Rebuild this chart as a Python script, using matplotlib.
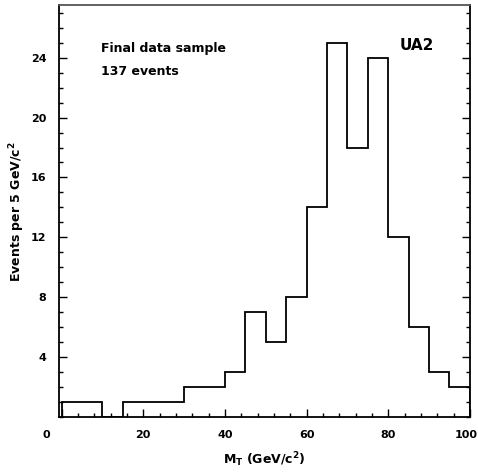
import numpy as np
import matplotlib
matplotlib.use("Agg")
import matplotlib.pyplot as plt
import matplotlib.transforms as mtransforms

# transverse mass histogram, 5 GeV bins from 0 to 100
bin_edges = np.arange(0, 105, 5)
counts = [1, 1, 0, 1, 1, 1, 2, 2, 3, 7, 5, 8, 14, 25, 18, 24, 12, 6, 3, 2]

x_ticks = [0, 20, 40, 60, 80, 100]
x_labels = ['0', '20', '40', '60', '80', '100']
y_ticks = [4, 8, 12, 16, 20, 24]
y_labels = ['4', '8', '12', '16', '20', '24']

plt.rcParams['font.family'] = 'DejaVu Sans'

fig = plt.figure(figsize=(4.78, 4.74), dpi=100)
ax = fig.add_axes([0.123, 0.120, 0.860, 0.869])

ax.stairs(counts, bin_edges, color='black', linewidth=1.3, baseline=0)

ax.set_xlim(-0.7, 100)
ax.set_ylim(0, 27.5)

ax.set_xticks(x_ticks)
ax.set_xticklabels(x_labels, fontsize=8, fontweight='bold')
ax.set_xticks(np.arange(0, 101, 4), minor=True)
ax.set_yticks(y_ticks)
ax.set_yticklabels(y_labels, fontsize=8, fontweight='bold')
ax.set_yticks(np.arange(0, 28, 1), minor=True)

ax.tick_params(which='both', direction='in', right=True, top=False, width=1.0)
ax.tick_params(which='major', length=6)
ax.tick_params(which='minor', length=3)
ax.tick_params(axis='y', pad=9)
ax.tick_params(axis='x', pad=9)

# first and last x labels sit a bit off their ticks in the original
xl = ax.get_xticklabels()
off0 = mtransforms.ScaledTranslation(-15 / 100, 0, fig.dpi_scale_trans)
xl[0].set_transform(xl[0].get_transform() + off0)
off1 = mtransforms.ScaledTranslation(-4 / 100, 0, fig.dpi_scale_trans)
xl[-1].set_transform(xl[-1].get_transform() + off1)

for s in ['left', 'bottom', 'right']:
    ax.spines[s].set_linewidth(1.3)
ax.spines['top'].set_linewidth(1.3)
ax.spines['top'].set_color('#555555')

ax.set_xlabel('M$_\\mathregular{T}$ (GeV/c$^\\mathregular{2}$)', fontsize=9, fontweight='bold', labelpad=8)
ax.set_ylabel('Events per 5 GeV/c$^\\mathregular{2}$', fontsize=9, fontweight='bold', labelpad=3)

ax.text(0.102, 0.886, 'Final data sample', transform=ax.transAxes, fontsize=9, fontweight='bold')
ax.text(0.102, 0.830, '137 events', transform=ax.transAxes, fontsize=9, fontweight='bold')
ax.text(0.830, 0.891, 'UA2', transform=ax.transAxes, fontsize=11, fontweight='bold')

fig.savefig('out.png', dpi=100)
